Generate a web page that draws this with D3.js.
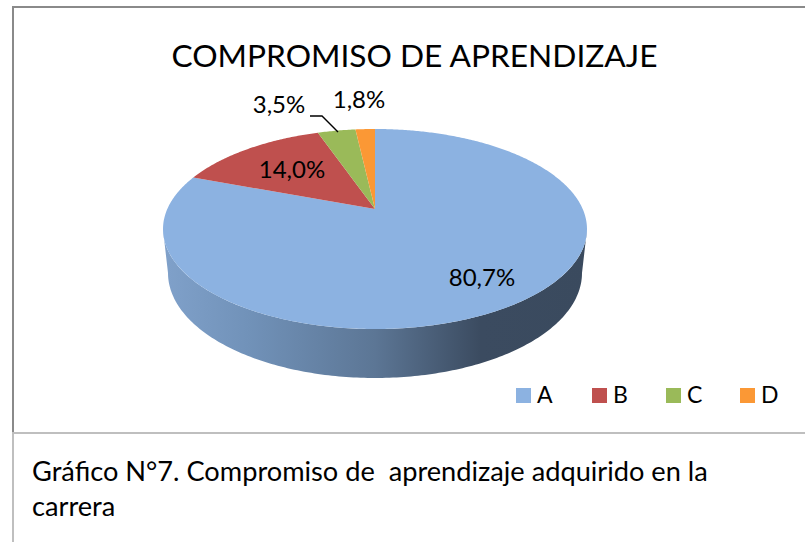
<!DOCTYPE html>
<html><head><meta charset="utf-8">
<script src="https://cdn.jsdelivr.net/npm/d3@7/dist/d3.min.js"></script>
<style>html,body{margin:0;padding:0;background:#fff}svg{display:block}text{font-family:Lato,"Noto Sans",sans-serif;fill:#000;white-space:pre}</style>
</head><body><svg id="c" width="805" height="542"></svg>
<script>
const categories = ["A","B","C","D"];
const values = [80.7,14.0,3.5,1.8];
const labels = ["80,7%","14,0%","3,5%","1,8%"];
const colors = ["#8cb2e1","#bf504e","#9aba59","#fb9835"];
const legendX = [516,592,666,740];
const labelPos = [[482,286],[292,178],[279,113],[359,108]];
const title = "COMPROMISO DE APRENDIZAJE";
const caption = ["Gráfico N°7. Compromiso de  aprendizaje adquirido en la","carrera"];

const svg = d3.select("#c");
const W=805,H=542;
svg.append("rect").attr("width",W).attr("height",H).attr("fill","#fff");

// perspective projection of the pie disc (top face)
const cx=375, cy=209, a=207.7, b=96, k=-0.2;
const proj=(t,r=1)=>{const u=r*Math.sin(t),v=-r*Math.cos(t),d=1+k*v;return [cx+a*u/d,cy+b*v/d];};
// lower disc outline seen through the perspective
const baseRx=207, baseRy=105, baseCy=273;
const base=t=>[cx+baseRx*Math.sin(t),baseCy-baseRy*Math.cos(t)];
const line=d3.line();
const pie=d3.pie().sort(null).value(d=>d);
const arcs=pie(values);

const defs=svg.append("defs");
const g=defs.append("linearGradient").attr("id","wall").attr("gradientUnits","userSpaceOnUse")
 .attr("x1",163).attr("x2",587).attr("y1",0).attr("y2",0);
[[0,"#80a1ca"],[0.2,"#7192b9"],[0.5,"#5c7695"],[0.75,"#3b4b60"],[1,"#3a4a5e"]].forEach(s=>g.append("stop").attr("offset",s[0]).attr("stop-color",s[1]));

// wall: front half of the rim joined to the front half of the lower disc
const rim=d3.range(0,361,1).map(d=>proj(d*Math.PI/180));
const left=rim.reduce((m,p,i)=>p[0]<rim[m][0]?i:m,0), right=rim.reduce((m,p,i)=>p[0]>rim[m][0]?i:m,0);
const front=rim.slice(right,left+1);
const lower=d3.range(270,89,-1).map(d=>base(d*Math.PI/180));
svg.append("path").attr("d",line(front.concat(lower))+"Z").attr("fill","url(#wall)");

// top face slices
svg.append("g").selectAll("path").data(arcs).join("path")
 .attr("fill",(d,i)=>colors[i])
 .attr("d",d=>{
   const n=Math.max(4,Math.ceil((d.endAngle-d.startAngle)/0.01));
   const pts=[proj(0,0)].concat(d3.range(n+1).map(i=>proj(d.startAngle+(d.endAngle-d.startAngle)*i/n)));
   return line(pts)+"Z";
 });

// leader line for C
svg.append("path").attr("d",line([[310,116],[322,116],[338,132]])).attr("fill","none").attr("stroke","#000").attr("stroke-width",1.4);

// data labels
svg.append("g").selectAll("text").data(labels).join("text")
 .attr("x",(d,i)=>labelPos[i][0]).attr("y",(d,i)=>labelPos[i][1])
 .attr("text-anchor","middle").attr("font-size",24).text(d=>d);

// title
svg.append("text").attr("x",414.5).attr("y",67).attr("text-anchor","middle").attr("font-size",31.7).text(title);

// legend
const lg=svg.append("g").selectAll("g").data(categories).join("g");
lg.append("rect").attr("x",(d,i)=>legendX[i]).attr("y",388).attr("width",15).attr("height",15).attr("fill",(d,i)=>colors[i]);
lg.append("text").attr("x",(d,i)=>legendX[i]+21).attr("y",403).attr("font-size",23).text(d=>d);

// frames
const fr=svg.append("g").attr("fill","none");
fr.append("path").attr("d","M13,433V7H805").attr("stroke","#8a8a8a").attr("stroke-width",2);
fr.append("path").attr("d","M13,433V542").attr("stroke","#bfbfbf").attr("stroke-width",2);
fr.append("path").attr("d","M12,433H805").attr("stroke","#bfbfbf").attr("stroke-width",2);

// caption
svg.append("g").selectAll("text").data(caption).join("text")
 .attr("x",32).attr("y",(d,i)=>481+i*35).attr("font-size",27.2).text(d=>d);
</script></body></html>
